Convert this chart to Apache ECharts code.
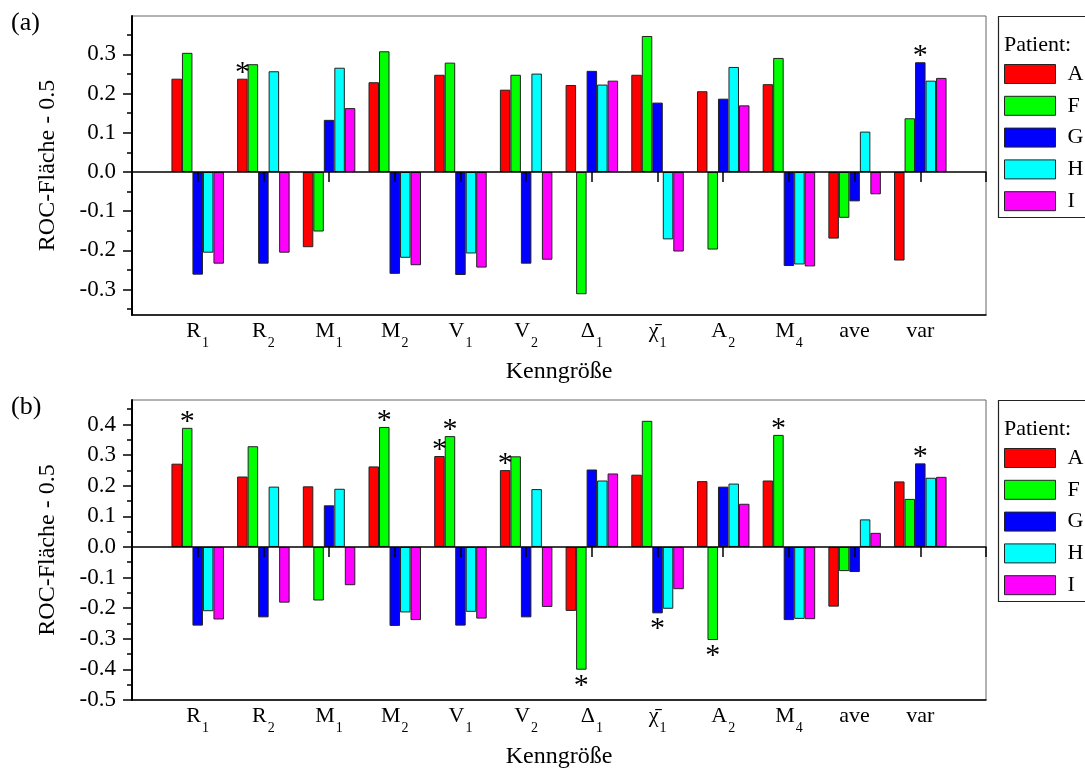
<!DOCTYPE html>
<html>
<head>
<meta charset="utf-8">
<script src="https://cdn.jsdelivr.net/npm/echarts@6/dist/echarts.min.js"></script>
<style>
html,body{margin:0;padding:0;background:#fff}
#chart{width:1085px;height:774px}
</style>
</head>
<body>
<div id="chart"></div>
<script>
// Feature names (base letter + subscript)
const categories = ['R', 'R', 'M', 'M', 'V', 'V', 'Δ', 'χ̄', 'A', 'M', 'ave', 'var'];
const subscripts = ['1', '2', '1', '2', '1', '2', '1', '1', '2', '4', '', ''];
const patients = ['A', 'F', 'G', 'H', 'I'];
const colors = ['#ff0000', '#00ff00', '#0000ff', '#00ffff', '#ff00ff'];

// Panel (a): ROC area - 0.5 per feature and patient
const a_A = [0.238, 0.238, -0.192, 0.229, 0.248, 0.210, 0.222, 0.248, 0.206, 0.224, -0.170, -0.226];
const a_F = [0.304, 0.275, -0.152, 0.308, 0.279, 0.248, -0.312, 0.347, -0.198, 0.291, -0.117, 0.137];
const a_G = [-0.262, -0.234, 0.133, -0.260, -0.263, -0.234, 0.258, 0.177, 0.187, -0.240, -0.075, 0.280];
const a_H = [-0.206, 0.257, 0.266, -0.219, -0.208, 0.251, 0.223, -0.172, 0.268, -0.236, 0.103, 0.233];
const a_I = [-0.234, -0.206, 0.163, -0.238, -0.244, -0.224, 0.233, -0.203, 0.170, -0.241, -0.057, 0.240];
// significant results: [feature index, patient index]
const a_stars = [[1, 0], [11, 2]];

// Panel (b)
const b_A = [0.272, 0.230, 0.198, 0.263, 0.297, 0.251, -0.209, 0.236, 0.215, 0.217, -0.195, 0.214];
const b_F = [0.389, 0.329, -0.175, 0.392, 0.362, 0.296, -0.401, 0.412, -0.304, 0.366, -0.079, 0.157];
const b_G = [-0.257, -0.230, 0.136, -0.258, -0.257, -0.230, 0.253, -0.217, 0.197, -0.239, -0.082, 0.273];
const b_H = [-0.210, 0.197, 0.190, -0.214, -0.212, 0.189, 0.217, -0.202, 0.207, -0.235, 0.090, 0.226];
const b_I = [-0.237, -0.182, -0.125, -0.239, -0.234, -0.196, 0.240, -0.138, 0.141, -0.236, 0.046, 0.229];
const b_stars = [[0, 1], [3, 1], [4, 0], [4, 1], [5, 0], [6, 1], [7, 2], [8, 1], [9, 1], [11, 2]];

// Value axis ticks
const a_yTicks = [-0.3, -0.2, -0.1, 0, 0.1, 0.2, 0.3];
const a_yMinor = [-0.35, -0.25, -0.15, -0.05, 0.05, 0.15, 0.25, 0.35];
const b_yTicks = [-0.5, -0.4, -0.3, -0.2, -0.1, 0, 0.1, 0.2, 0.3, 0.4];
const b_yMinor = [-0.45, -0.35, -0.25, -0.15, -0.05, 0.05, 0.15, 0.25, 0.35, 0.45];

const FONT = 'Liberation Serif';
// one empty slot on each side of the feature list
const slots = ['_lo'].concat(categories.map((c, i) => c + subscripts[i] + '#' + i), ['_hi']);

const option = {
  backgroundColor: '#fff',
  animation: false,
  textStyle: { fontFamily: FONT, color: '#000' },
  grid: [],
  xAxis: [],
  yAxis: [],
  series: [],
  legend: [],
  graphic: []
};

function addPanel(p) {
  const g = option.grid.length;
  const xi = option.xAxis.length;
  const yi = option.yAxis.length;
  const rect = { left: 132, width: 854, top: p.top, height: p.height };
  option.grid.push(Object.assign({ show: true, borderColor: '#666', borderWidth: 1, backgroundColor: 'transparent' }, rect));
  option.grid.push(Object.assign({ show: false }, rect));

  // bottom axis with feature labels
  option.xAxis.push({
    type: 'category', gridIndex: g, data: slots, boundaryGap: false, position: 'bottom',
    axisLine: { onZero: false, lineStyle: { color: '#000', width: 1.5 } },
    axisTick: { show: false },
    axisLabel: {
      interval: 0, margin: 5,
      formatter: (v, i) => {
        const k = i - 1;
        if (k < 0 || k >= categories.length) return '';
        return subscripts[k] ? '{b|' + categories[k] + '}{s|' + subscripts[k] + '}' : '{b|' + categories[k] + '}';
      },
      rich: {
        b: { fontFamily: FONT, fontSize: 22, color: '#000', lineHeight: 23, verticalAlign: 'top' },
        s: { fontFamily: FONT, fontSize: 14, color: '#000', lineHeight: 14, verticalAlign: 'top', padding: [16, 0, 0, 1] }
      }
    },
    name: 'Kenngröße', nameLocation: 'middle', nameGap: 45,
    nameTextStyle: { fontFamily: FONT, fontSize: 24, color: '#000' }
  });
  // zero line with downward ticks at each feature
  option.xAxis.push({
    type: 'category', gridIndex: g, data: slots, boundaryGap: false, position: 'top', z: 5,
    axisLine: { onZero: true, lineStyle: { color: '#000', width: 1.5 } },
    axisTick: { show: true, inside: true, length: 10, interval: 0, lineStyle: { color: '#000', width: 1.5 } },
    axisLabel: { show: false }
  });
  // helper axis for the minor tick grid
  option.xAxis.push({ type: 'category', gridIndex: g + 1, data: slots, show: false });

  option.yAxis.push({
    type: 'value', gridIndex: g, min: p.min, max: p.max,
    splitLine: { show: false },
    axisLine: { show: true, onZero: false, lineStyle: { color: '#000', width: 2 } },
    axisTick: { show: true, length: 9, customValues: p.ticks, lineStyle: { color: '#000', width: 1.5 } },
    axisLabel: { customValues: p.ticks, formatter: v => v.toFixed(1), fontFamily: FONT, fontSize: 23, color: '#000', margin: 16 },
    name: 'ROC-Fläche - 0.5', nameLocation: 'middle', nameGap: 72,
    nameTextStyle: { fontFamily: FONT, fontSize: 24, color: '#000' }
  });
  option.yAxis.push({
    type: 'value', gridIndex: g + 1, min: p.min, max: p.max,
    splitLine: { show: false },
    axisLine: { show: false },
    axisTick: { show: true, length: 5, customValues: p.minor, lineStyle: { color: '#000', width: 1.5 } },
    axisLabel: { show: false }
  });

  p.values.forEach((vals, s) => {
    const data = [null].concat(vals.map((v, k) => {
      const star = p.stars.some(st => st[0] === k && st[1] === s);
      if (!star) return v;
      return {
        value: v,
        label: {
          show: true, formatter: '*', position: v >= 0 ? 'top' : 'bottom', distance: v >= 0 ? -9 : 1,
          fontFamily: FONT, fontSize: 30, color: '#000'
        }
      };
    }), [null]);
    option.series.push({
      type: 'bar', name: patients[s], xAxisIndex: xi, yAxisIndex: yi,
      data: data, barWidth: 10.5, barGap: '0%',
      itemStyle: { color: colors[s], borderColor: '#222', borderWidth: 1 }
    });
  });

  option.legend.push({
    orient: 'vertical', left: 1004, top: p.legendTop, padding: 0,
    itemWidth: 51, itemHeight: 19, itemGap: 9.8, icon: 'rect', selectedMode: false,
    data: patients,
    itemStyle: { borderColor: '#222', borderWidth: 1 },
    textStyle: { fontFamily: FONT, fontSize: 22, color: '#000', lineHeight: 19, padding: [0, 0, 0, 7] }
  });
  option.graphic.push(
    { type: 'rect', shape: { x: 998.5, y: p.top + 0.5, width: 120, height: 201 }, style: { fill: 'none', stroke: '#222', lineWidth: 1.2 } },
    { type: 'text', x: 1004, y: p.legendTop - 18, style: { text: 'Patient:', font: '22px "' + FONT + '"', fill: '#000', textVerticalAlign: 'middle' } },
    { type: 'text', x: 11, y: p.top - 6, style: { text: p.label, font: '26px "' + FONT + '"', fill: '#000' } }
  );
}

addPanel({ top: 16, height: 299, min: -0.365, max: 0.398, ticks: a_yTicks, minor: a_yMinor,
  values: [a_A, a_F, a_G, a_H, a_I], stars: a_stars, legendTop: 63, label: '(a)' });
addPanel({ top: 400, height: 300, min: -0.5, max: 0.48, ticks: b_yTicks, minor: b_yMinor,
  values: [b_A, b_F, b_G, b_H, b_I], stars: b_stars, legendTop: 447, label: '(b)' });

const chart = echarts.init(document.getElementById('chart'), null, { renderer: 'canvas' });
chart.setOption(option);
</script>
</body>
</html>
